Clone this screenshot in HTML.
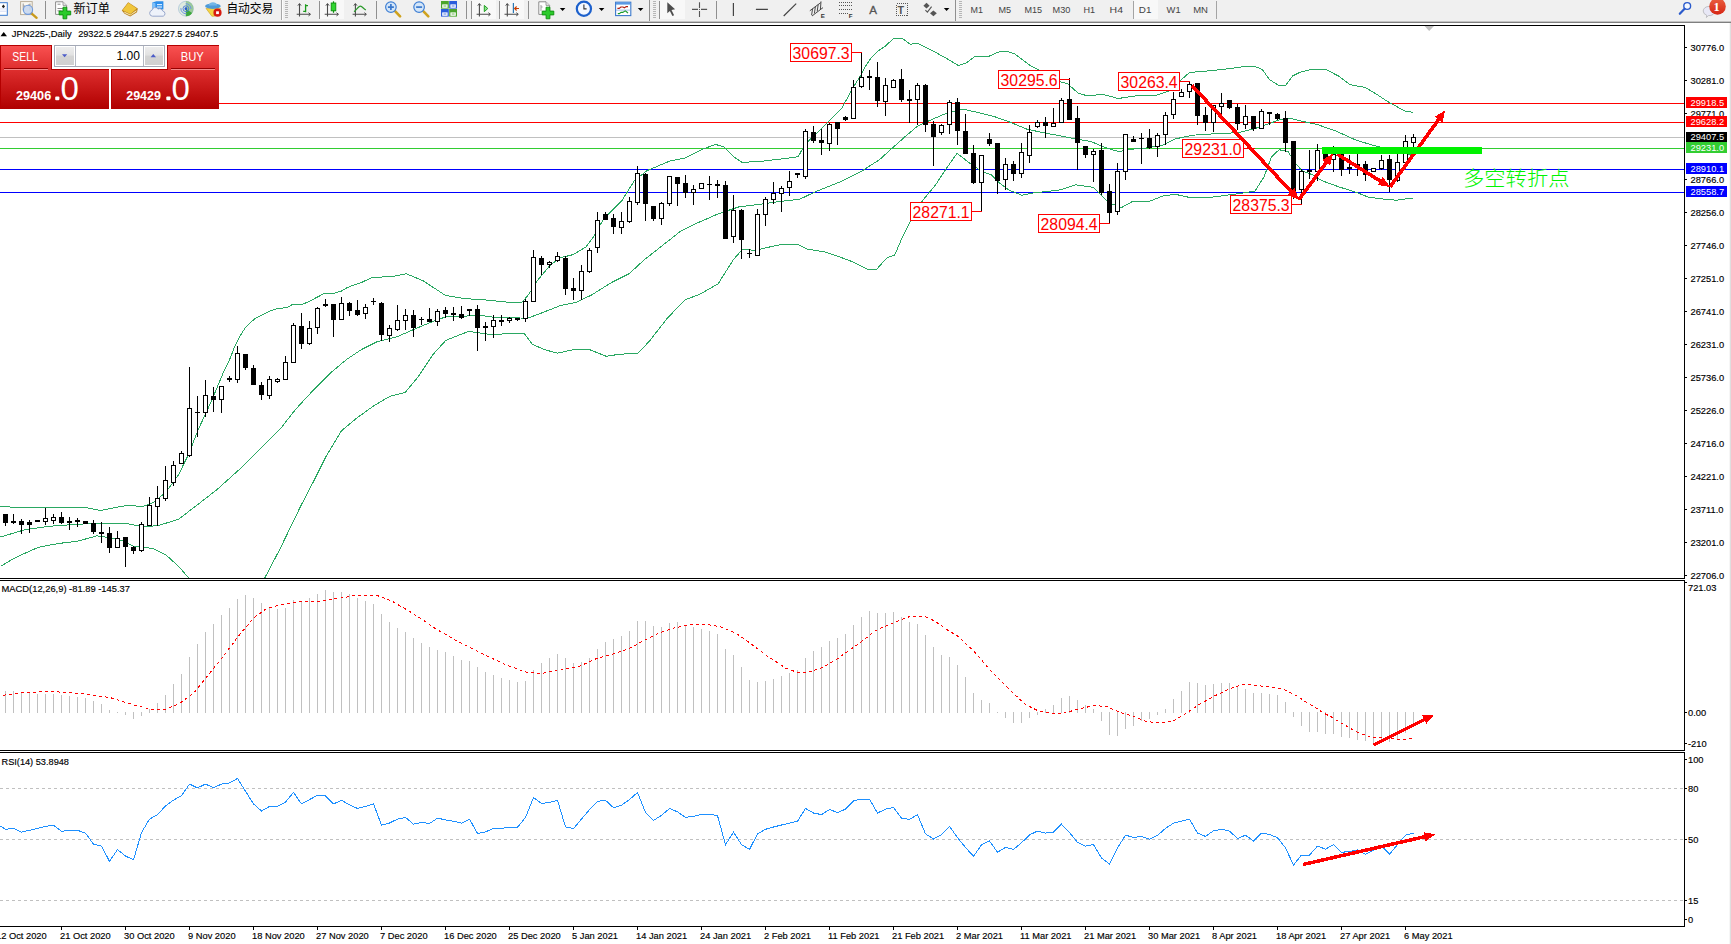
<!DOCTYPE html><html><head><meta charset="utf-8"><title>JPN225 Daily</title>
<style>html,body{margin:0;padding:0;background:#fff;overflow:hidden}body{width:1731px;height:944px}svg{display:block;font-family:"Liberation Sans","Noto Sans CJK SC",sans-serif}
.c{shape-rendering:crispEdges}.s{font-size:9.3px;fill:#000;stroke:#000;stroke-width:.15px}.t{font-size:9.5px;fill:#444}.lab{font-size:16.7px;fill:#f00}.tag{font-size:9.3px;fill:#fff}
</style></head><body>
<svg width="1731" height="944" viewBox="0 0 1731 944">
<defs>
<linearGradient id="gr" gradientUnits="userSpaceOnUse" x1="0" y1="45" x2="0" y2="109"><stop offset="0" stop-color="#fa5252"/><stop offset="0.36" stop-color="#e03030"/><stop offset="0.62" stop-color="#cc1c1c"/><stop offset="1" stop-color="#b00000"/></linearGradient>
<linearGradient id="gb" x1="0" y1="0" x2="0" y2="1"><stop offset="0" stop-color="#eeeeee"/><stop offset="0.45" stop-color="#e2e2e2"/><stop offset="0.5" stop-color="#d4d4d4"/><stop offset="1" stop-color="#d0d0d0"/></linearGradient>
<linearGradient id="gr2" x1="0" y1="0" x2="0" y2="1"><stop offset="0" stop-color="#fa5555"/><stop offset="1" stop-color="#e23232"/></linearGradient>
<linearGradient id="gr3" x1="0" y1="0" x2="0" y2="1"><stop offset="0" stop-color="#e03030"/><stop offset="1" stop-color="#b20000"/></linearGradient>
<linearGradient id="gc" x1="0" y1="0" x2="0" y2="1"><stop offset="0" stop-color="#ea6040"/><stop offset="1" stop-color="#d62614"/></linearGradient>
</defs>
<rect width="1731" height="944" fill="#fff"/>
<g class="c"><rect x="0" y="0" width="1731" height="21" fill="#f0f0f0"/>
<rect x="0" y="21" width="1731" height="1" fill="#c4c4c4"/><rect x="0" y="22" width="1731" height="1" fill="#7f7f7f"/></g>
<g id="tb">
<!-- partial window icon -->
<rect x="-3" y="2.7" width="10.3" height="12.6" fill="#fff" stroke="#3a7bd0" stroke-width="1"/>
<rect x="0" y="8.6" width="6.6" height=".7" fill="#c4cdf0"/><rect x="0" y="10.8" width="6.6" height=".7" fill="#c4cdf0"/>
<polygon points="3.4,4.6 5,6.4 3.4,8.2 1.8,6.4" fill="#222"/>
<!-- magnifier chart -->
<rect x="20.6" y="1.6" width="11.6" height="13" fill="#fbf8f0" stroke="#b9ad98" stroke-width="1"/>
<path d="M23.2,3.5v7M30,3.5v7M23.2,6h2M28,5h2" stroke="#999" stroke-width="1" fill="none"/>
<line x1="31.2" y1="13.2" x2="36.6" y2="17.8" stroke="#c99a1c" stroke-width="2.4" stroke-linecap="round"/>
<circle cx="28" cy="9.8" r="4.6" fill="#c4d6ee" fill-opacity=".85" stroke="#6d98dc" stroke-width="1.1"/>
<rect class="c" x="45" y="1" width="1" height="18" fill="#8f8f8f"/>
<!-- new order -->
<path d="M55.6,1.8h7.4l3.6,3.6v9h-11z" fill="#fff" stroke="#8a8a8a" stroke-width="1"/>
<path d="M63,1.8v3.6h3.6" fill="#e8e8e8" stroke="#8a8a8a" stroke-width=".8"/>
<path d="M57.5,4.2h3M57.5,8.5h5.5M57.5,10.8h4" stroke="#8c8c8c" stroke-width="1"/>
<path d="M63,7.2h3.8v3.9h3.9v3.8h-3.9v3.9h-3.8v-3.9h-3.9v-3.8h3.9z" fill="#2bcb2b" stroke="#0d8d0d" stroke-width=".9"/>
<text x="73.4" y="13.2" font-size="12.2" fill="#000">新订单</text>
<!-- gold book -->
<polygon points="121.8,10.6 128.2,2.2 137.8,8.6 137,12.2 130.2,16.4 124.6,13.8" fill="#b8801a"/>
<polygon points="122.6,10.2 128.4,2.8 136.8,8.4 130.4,14" fill="#f0c63c"/>
<polygon points="124,11.6 130.4,14.6 136.6,10 136.2,11.8 130.2,15.6 124.6,13" fill="#f6e6b0"/>
<!-- server cloud -->
<path d="M152.4,2.4l4-1.2h7v8.4h-11z" fill="#2f8fea"/>
<path d="M152.4,2.4l3,0.8v6.4h-3z" fill="#7fc0fa"/>
<rect x="157" y="4" width="5" height="1.2" fill="#d8ecff"/><rect x="157" y="6.4" width="5" height="1.2" fill="#d8ecff"/>
<path d="M152.5,16.2a3,3 0 0 1 -.6,-5.9a3.4,3.4 0 0 1 6.2,-1.2a3.2,3.2 0 0 1 4.6,1.9a2.7,2.7 0 0 1 .5,5.2z" fill="#eef2fa" stroke="#8e9fc6" stroke-width=".9"/>
<!-- signal -->
<circle cx="185.9" cy="8.7" r="7.4" fill="#dfeadf" stroke="#a9c4d8" stroke-width=".8"/>
<path d="M185.9,8.7v7.6a7.6,7.6 0 0 0 0,-15.2z" fill="#86bf86" fill-opacity=".75"/>
<path d="M185.9,16.3a7.6,7.6 0 0 0 6.2,-3.2l-6.2,-4.4z" fill="#3da83d"/>
<circle cx="185.9" cy="8.7" r="5" fill="none" stroke="#6a94e4" stroke-width="1" stroke-dasharray="9 6.7" stroke-dashoffset="-7"/>
<circle cx="185.9" cy="8.7" r="2.9" fill="none" stroke="#4a78d8" stroke-width=".9"/>
<circle cx="185.9" cy="8.7" r="1.4" fill="#2a5ad0"/>
<!-- auto trading -->
<polygon points="206,8.4 220.6,8.4 214.6,16.2 211.8,16.2" fill="#f4d444" stroke="#c8a020" stroke-width=".6"/>
<ellipse cx="212.9" cy="6.2" rx="7.8" ry="2.7" fill="#4e9ad8"/>
<path d="M208.6,5.6a4.4,4.2 0 0 1 8.6,0z" fill="#74b6e8"/>
<circle cx="217.5" cy="12.7" r="4.1" fill="#d61a10"/>
<rect x="216.1" y="11.3" width="2.8" height="2.8" fill="#fff"/>
<text x="226.4" y="13.2" font-size="12.2" fill="#000" textLength="46.8" lengthAdjust="spacingAndGlyphs">自动交易</text>
<rect class="c" x="281" y="0" width="1" height="20" fill="#a8a8a8"/><rect class="c" x="282" y="0" width="1" height="20" fill="#fcfcfc"/>

<g class="c" fill="#b6b6b6"><rect x="285" y="1" width="3" height="1"/><rect x="285" y="3" width="3" height="1"/><rect x="285" y="5" width="3" height="1"/><rect x="285" y="7" width="3" height="1"/><rect x="285" y="9" width="3" height="1"/><rect x="285" y="11" width="3" height="1"/><rect x="285" y="13" width="3" height="1"/><rect x="285" y="15" width="3" height="1"/><rect x="285" y="17" width="3" height="1"/></g>
<g stroke="#4a4a4a" stroke-width="1.1" fill="none"><path d="M299.5,16.6V3.8M296.7,14.3H310.1"/><path d="M297.9,5.6l1.6,-2l1.6,2M308.5,12.7l2,1.6l-2,1.6" stroke-width="1"/></g>
<path d="M305.6,4.3V12.2M305.6,5.6h2.4M303.2,11.3h2.4" stroke="#1a9a1a" stroke-width="1.3" fill="none"/>
<rect class="c" x="319" y="1" width="1" height="18" fill="#8f8f8f"/>
<rect class="c" x="320" y="0" width="24" height="19" fill="#f8f8f8"/>
<g stroke="#4a4a4a" stroke-width="1.1" fill="none"><path d="M327.5,16.6V3.8M324.7,14.3H338.1"/><path d="M325.9,5.6l1.6,-2l1.6,2M336.5,12.7l2,1.6l-2,1.6" stroke-width="1"/></g>
<path d="M333.5,1.3V12.8" stroke="#0d8d0d" stroke-width="1.2"/><rect x="331.2" y="3" width="4.6" height="7.8" fill="#2fd62f" stroke="#0d8d0d" stroke-width=".9"/>
<g stroke="#4a4a4a" stroke-width="1.1" fill="none"><path d="M355.4,16.6V3.8M352.6,14.3H366.0"/><path d="M353.8,5.6l1.6,-2l1.6,2M364.4,12.7l2,1.6l-2,1.6" stroke-width="1"/></g>
<path d="M354.1,11.8C357,9 358.6,6.2 360.3,6.2C362.4,6.2 363.4,8.8 365.9,10" stroke="#2a9a2a" stroke-width="1.2" fill="none"/>
<rect class="c" x="376" y="1" width="1" height="18" fill="#8f8f8f"/>
<line x1="395.3" y1="11.4" x2="400.1" y2="16.4" stroke="#cfa21e" stroke-width="2.6" stroke-linecap="round"/>
<circle cx="390.9" cy="7.1" r="5.3" fill="#d4e6f8" stroke="#3f7fd4" stroke-width="1.2"/>
<path d="M387.9,7.1h6M390.9,4.1v6" stroke="#3a78cc" stroke-width="1.7" fill="none"/>
<line x1="423.5" y1="11.4" x2="428.3" y2="16.4" stroke="#cfa21e" stroke-width="2.6" stroke-linecap="round"/>
<circle cx="419.1" cy="7.1" r="5.3" fill="#d4e6f8" stroke="#3f7fd4" stroke-width="1.2"/>
<path d="M416.1,7.1h6" stroke="#3a78cc" stroke-width="1.7" fill="none"/>
<rect x="441.0" y="1.0" width="7.8" height="7.6" fill="#4aa52c"/><rect x="442.2" y="4.4" width="5.4" height="3.4" fill="#fff"/><rect x="443.4" y="5.6" width="3" height=".8" fill="#4aa52c"/>
<rect x="449.2" y="1.0" width="7.8" height="7.6" fill="#2a5cdc"/><rect x="450.4" y="4.4" width="5.4" height="3.4" fill="#fff"/><rect x="451.6" y="5.6" width="3" height=".8" fill="#2a5cdc"/>
<rect x="441.0" y="9.0" width="7.8" height="7.6" fill="#2a5cdc"/><rect x="442.2" y="12.4" width="5.4" height="3.4" fill="#fff"/><rect x="443.4" y="13.6" width="3" height=".8" fill="#2a5cdc"/>
<rect x="449.2" y="9.0" width="7.8" height="7.6" fill="#4aa52c"/><rect x="450.4" y="12.4" width="5.4" height="3.4" fill="#fff"/><rect x="451.6" y="13.6" width="3" height=".8" fill="#4aa52c"/>
<rect class="c" x="466" y="1" width="1" height="18" fill="#8f8f8f"/>
<rect class="c" x="471" y="1" width="1" height="18" fill="#8f8f8f"/>
<rect class="c" x="472" y="0" width="24" height="19" fill="#f8f8f8"/>
<g stroke="#4a4a4a" stroke-width="1.1" fill="none"><path d="M479.4,16.6V3.8M476.6,14.3H490.0"/><path d="M477.8,5.6l1.6,-2l1.6,2M488.4,12.7l2,1.6l-2,1.6" stroke-width="1"/></g>
<polygon points="484.3,5.4 484.3,11.7 487.8,8.5" fill="#8ee08e" stroke="#22a022" stroke-width="1"/>
<rect class="c" x="499" y="1" width="1" height="18" fill="#8f8f8f"/>
<rect class="c" x="500" y="0" width="24" height="19" fill="#f8f8f8"/>
<g stroke="#4a4a4a" stroke-width="1.1" fill="none"><path d="M507.3,16.6V3.8M504.5,14.3H517.9"/><path d="M505.7,5.6l1.6,-2l1.6,2M516.3,12.7l2,1.6l-2,1.6" stroke-width="1"/></g>
<path d="M513.4,3V13" stroke="#2a78b4" stroke-width="1.2"/><path d="M519,8.5H514.6M516.6,6.5l-2,2l2,2" stroke="#c83c00" stroke-width="1.1" fill="none"/>
<rect class="c" x="528" y="1" width="1" height="18" fill="#8f8f8f"/>
<path d="M538.8,1.8h7.2l3.6,3.6v9h-10.8z" fill="#fff" stroke="#8a8a8a" stroke-width="1"/><path d="M546,1.8v3.6h3.6" fill="#e8e8e8" stroke="#8a8a8a" stroke-width=".8"/><path d="M541,5v6M541,7h1.6" stroke="#999" stroke-width=".9" fill="none"/>
<path d="M546.1,7.2h3.8v3.9h3.9v3.8h-3.9v3.9h-3.8v-3.9h-3.9v-3.8h3.9z" fill="#2bcb2b" stroke="#0d8d0d" stroke-width=".9"/>
<polygon points="559.8,8 565.4,8 562.6,10.9" fill="#000"/>
<circle cx="583.9" cy="8.7" r="7.1" fill="#f4f8ff" stroke="#1c60cc" stroke-width="2.2"/><path d="M583.9,4.6V8.9H586.6" stroke="#333" stroke-width="1.1" fill="none"/>
<polygon points="598.8,8 604.4,8 601.6,10.9" fill="#000"/>
<rect x="615.6" y="2.2" width="15.2" height="13.4" fill="#fff" stroke="#3a78cc" stroke-width="1.1"/><rect x="616" y="2.4" width="14.4" height="2.2" fill="#5a98e4"/><rect x="616" y="9.7" width="14.4" height=".8" fill="#8ab0e4"/>
<path d="M617.4,8.4h1.8l1.6,-1.4h2.2l1.4,.8l1.8,-1.2h1.8" stroke="#b01c10" stroke-width="1.1" fill="none"/><path d="M617.8,13.6h1.6l1.6,-1.2h1.8l2.4,-1.6l1.6,1.2l1.2,1.2" stroke="#1a9a2a" stroke-width="1.1" fill="none"/>
<polygon points="637.8,8 643.4,8 640.6,10.9" fill="#000"/>
<rect class="c" x="649" y="0" width="1" height="21" fill="#8f8f8f"/>
<g class="c" fill="#b6b6b6"><rect x="653" y="1" width="3" height="1"/><rect x="653" y="3" width="3" height="1"/><rect x="653" y="5" width="3" height="1"/><rect x="653" y="7" width="3" height="1"/><rect x="653" y="9" width="3" height="1"/><rect x="653" y="11" width="3" height="1"/><rect x="653" y="13" width="3" height="1"/><rect x="653" y="15" width="3" height="1"/><rect x="653" y="17" width="3" height="1"/></g>
<rect class="c" x="659" y="1" width="1" height="18" fill="#8f8f8f"/>
<rect class="c" x="660" y="0" width="25" height="19" fill="#f8f8f8"/>
<polygon points="667.3,2.2 667.3,13.2 669.9,10.9 672.4,16.1 674.1,15.3 671.5,10.1 675.1,9.2" fill="#4e4e4e"/>
<path d="M692,9.4h6M701,9.4h6.1M699.5,2.2v5.7M699.5,10.9v6" stroke="#555" stroke-width="1.1"/><rect x="699" y="8.9" width="1" height="1" fill="#555"/>
<rect class="c" x="716" y="1" width="1" height="18" fill="#8f8f8f"/>
<path d="M733.4,3V16M755.9,9.4H767.9M783.7,16L796.2,3.6" stroke="#444" stroke-width="1.2" fill="none"/>
<path d="M809.8,10.8L820.8,2.6M812,16L823,7.6M812.6,8.6l-1,6.6M815.4,6.6l-1,6.8M818.2,4.4l-1,7M821,1.4l-.6,8" stroke="#4a4a4a" stroke-width="1" fill="none"/>
<text x="820.8" y="17.8" font-size="6.2" font-weight="bold" fill="#333">E</text>
<g class="c">
<line x1="839" y1="2.5" x2="852" y2="2.5" stroke="#555" stroke-width="1" stroke-dasharray="1 1"/>
<line x1="839" y1="5.5" x2="852" y2="5.5" stroke="#555" stroke-width="1" stroke-dasharray="1 1"/>
<line x1="839" y1="9.5" x2="852" y2="9.5" stroke="#555" stroke-width="1" stroke-dasharray="1 1"/>
<line x1="839" y1="13.5" x2="848" y2="13.5" stroke="#555" stroke-width="1" stroke-dasharray="1 1"/>
</g><text x="848.8" y="17.8" font-size="6.2" font-weight="bold" fill="#333">F</text>
<text x="869.3" y="13.7" font-size="11.6" fill="#555" stroke="#555" stroke-width=".3">A</text>
<rect class="c" x="896.5" y="3.5" width="11" height="12" fill="none" stroke="#555" stroke-width="1" stroke-dasharray="1 1"/>
<text x="897.6" y="13.5" font-size="10.8" font-weight="bold" fill="#555">T</text>
<polygon points="926.5,2.8 929.6,5.8 926.5,8.4 923.4,5.8" fill="#555"/><polygon points="933.4,10.4 936.8,13.2 933.4,16.2 930,13.2" fill="#555"/><path d="M925.4,10.2l2,2l4.2,-5.6" stroke="#555" stroke-width="1.1" fill="none"/>
<polygon points="943.8,8 949.4,8 946.6,10.9" fill="#000"/>
<rect class="c" x="955" y="0" width="1" height="21" fill="#8f8f8f"/>
<g class="c" fill="#b6b6b6"><rect x="959" y="1" width="3" height="1"/><rect x="959" y="3" width="3" height="1"/><rect x="959" y="5" width="3" height="1"/><rect x="959" y="7" width="3" height="1"/><rect x="959" y="9" width="3" height="1"/><rect x="959" y="11" width="3" height="1"/><rect x="959" y="13" width="3" height="1"/><rect x="959" y="15" width="3" height="1"/><rect x="959" y="17" width="3" height="1"/></g>
<text class="t" x="970.6" y="12.5" textLength="12.4" lengthAdjust="spacingAndGlyphs">M1</text>
<text class="t" x="998.5" y="12.5" textLength="12.6" lengthAdjust="spacingAndGlyphs">M5</text>
<text class="t" x="1024.4" y="12.5" textLength="17.6" lengthAdjust="spacingAndGlyphs">M15</text>
<text class="t" x="1052.6" y="12.5" textLength="17.8" lengthAdjust="spacingAndGlyphs">M30</text>
<text class="t" x="1083.4" y="12.5" textLength="11.6" lengthAdjust="spacingAndGlyphs">H1</text>
<text class="t" x="1109.6" y="12.5" textLength="13.4" lengthAdjust="spacingAndGlyphs">H4</text>
<rect class="c" x="1134" y="0" width="24" height="19" fill="#f8f8f8"/>
<text class="t" x="1138.8" y="12.5" textLength="12.6" lengthAdjust="spacingAndGlyphs">D1</text>
<text class="t" x="1166.6" y="12.5" textLength="14.0" lengthAdjust="spacingAndGlyphs">W1</text>
<text class="t" x="1193.2" y="12.5" textLength="14.8" lengthAdjust="spacingAndGlyphs">MN</text>
<rect class="c" x="1133" y="1" width="1" height="18" fill="#a4a4a4"/>
<rect class="c" x="1216" y="1" width="1" height="18" fill="#a4a4a4"/>
<circle cx="1687.2" cy="6" r="3.4" fill="#f4f8ff" stroke="#2a5acc" stroke-width="1.4"/><line x1="1684.6" y1="8.8" x2="1679.8" y2="13.8" stroke="#2a5acc" stroke-width="2.2" stroke-linecap="round"/>
<path d="M1703.2,11a5.9,4.6 0 0 1 11.8,0a5.9,4.6 0 0 1 -6.6,4.6l-2,1.9l.3,-2.3a5.9,4.6 0 0 1 -3.5,-4.2z" fill="#e8e8f6" stroke="#b4b4b8" stroke-width=".8"/>
<circle cx="1717.5" cy="6.4" r="8.3" fill="url(#gc)"/><text x="1716.6" y="11" font-size="12.4" font-weight="bold" font-family="Liberation Serif,serif" fill="#fff" text-anchor="middle">1</text>
</g>
<g class="c" fill="#000">
<rect x="0" y="25" width="1685" height="1"/><rect x="1684" y="25" width="1" height="554"/><rect x="0" y="578" width="1685" height="1"/>
<rect x="0" y="580" width="1685" height="1"/><rect x="1684" y="580" width="1" height="171"/><rect x="0" y="750" width="1685" height="1"/>
<rect x="0" y="752" width="1685" height="1"/><rect x="1684" y="752" width="1" height="175"/><rect x="0" y="926" width="1685" height="1"/>
</g>
<rect class="c" x="1729" y="23" width="1" height="921" fill="#f6f6f6"/><rect class="c" x="1730" y="23" width="1" height="921" fill="#dedede"/>
<g class="c" fill="#000">
<rect x="1685" y="47" width="2" height="1"/>
<rect x="1685" y="80" width="2" height="1"/>
<rect x="1685" y="113" width="2" height="1"/>
<rect x="1685" y="179" width="2" height="1"/>
<rect x="1685" y="212" width="2" height="1"/>
<rect x="1685" y="245" width="2" height="1"/>
<rect x="1685" y="278" width="2" height="1"/>
<rect x="1685" y="311" width="2" height="1"/>
<rect x="1685" y="344" width="2" height="1"/>
<rect x="1685" y="377" width="2" height="1"/>
<rect x="1685" y="410" width="2" height="1"/>
<rect x="1685" y="443" width="2" height="1"/>
<rect x="1685" y="476" width="2" height="1"/>
<rect x="1685" y="509" width="2" height="1"/>
<rect x="1685" y="542" width="2" height="1"/>
<rect x="1685" y="575" width="2" height="1"/>
<rect x="1685" y="582" width="2" height="1"/>
<rect x="1685" y="712" width="2" height="1"/>
<rect x="1685" y="743" width="2" height="1"/>
<rect x="1685" y="759" width="2" height="1"/>
<rect x="1685" y="788" width="2" height="1"/>
<rect x="1685" y="839" width="2" height="1"/>
<rect x="1685" y="900" width="2" height="1"/>
<rect x="1685" y="919" width="2" height="1"/>
</g>
<g class="s">
<text x="1690.5" y="50.8">30776.0</text>
<text x="1690.5" y="83.8">30281.0</text>
<text x="1690.5" y="116.8">29771.0</text>
<text x="1690.5" y="182.8">28766.0</text>
<text x="1690.5" y="215.8">28256.0</text>
<text x="1690.5" y="248.8">27746.0</text>
<text x="1690.5" y="281.8">27251.0</text>
<text x="1690.5" y="314.8">26741.0</text>
<text x="1690.5" y="347.8">26231.0</text>
<text x="1690.5" y="380.8">25736.0</text>
<text x="1690.5" y="413.8">25226.0</text>
<text x="1690.5" y="446.8">24716.0</text>
<text x="1690.5" y="479.8">24221.0</text>
<text x="1690.5" y="512.8">23711.0</text>
<text x="1690.5" y="545.8">23201.0</text>
<text x="1690.5" y="578.8">22706.0</text>
<text x="1688" y="591.1">721.03</text>
<text x="1688" y="715.9">0.00</text>
<text x="1688" y="746.6">-210</text>
<text x="1688" y="763.2">100</text>
<text x="1688" y="792.2">80</text>
<text x="1688" y="843.1">50</text>
<text x="1688" y="904.1">15</text>
<text x="1688" y="923.1">0</text>
</g>
<g class="c">
<rect x="1686" y="97" width="41" height="11" fill="#f00"/>
<rect x="1686" y="116" width="41" height="11" fill="#f00"/>
<rect x="1686" y="132" width="41" height="10" fill="#000"/>
<rect x="1686" y="142" width="41" height="11" fill="#32cd32"/>
<rect x="1686" y="163" width="41" height="11" fill="#00f"/>
<rect x="1686" y="186" width="41" height="11" fill="#00f"/>
</g><g class="tag">
<text x="1690.5" y="105.8">29918.5</text>
<text x="1690.5" y="124.8">29628.2</text>
<text x="1690.5" y="139.8">29407.5</text>
<text x="1690.5" y="150.8">29231.0</text>
<text x="1690.5" y="171.8">28910.1</text>
<text x="1690.5" y="194.8">28558.7</text>
</g>
<g class="c">
<rect x="0" y="103" width="1684" height="1" fill="#f00"/>
<rect x="0" y="122" width="1684" height="1" fill="#f00"/>
<rect x="0" y="137" width="1684" height="1" fill="#c0c0c0"/>
<rect x="0" y="148" width="1684" height="1" fill="#32cd32"/>
<rect x="0" y="169" width="1684" height="1" fill="#00f"/>
<rect x="0" y="192" width="1684" height="1" fill="#00f"/>
</g>
<clipPath id="cm"><rect x="0" y="26" width="1684" height="552"/></clipPath>
<g clip-path="url(#cm)">
<polyline class="c" fill="none" stroke="#2aa862" stroke-width="1"  points="0.5,506.5 25.9,507.8 86.5,507.8 100.5,510.4 127.5,505.3 142.5,506.5 153.1,502.7 165.5,492.6 178.5,474.8 188.5,454.4 198.5,429.0 211.5,401.0 224.2,370.5 229.6,359.6 234.8,346.3 239.6,336.7 245.3,327.7 254.8,318.6 262.5,314.8 269.1,311.5 276.8,308.6 286.3,307.7 293.0,304.3 302.5,304.3 308.2,301.9 324.4,293.4 334.0,293.4 341.6,291.0 347.3,287.6 353.0,285.3 360.5,282.9 372.0,277.6 392.5,276.4 406.4,273.8 422.9,280.7 445.5,295.4 463.5,298.5 483.9,299.8 509.3,302.3 522.0,302.3 528.5,294.7 537.3,280.7 550.0,265.4 560.2,257.8 573.2,254.6 585.9,247.0 593.5,236.8 603.5,219.0 621.5,201.2 634.2,180.9 646.9,170.7 669.8,161.0 685.1,158.0 702.9,149.0 715.5,144.5 723.2,146.5 733.4,156.7 742.3,162.5 763.9,161.0 789.3,158.0 798.2,156.7 804.5,145.3 814.5,135.0 821.0,129.2 841.4,108.8 854.1,85.9 860.5,75.8 864.7,67.4 870.2,59.1 878.5,50.8 885.5,45.9 893.8,38.3 902.1,38.3 910.4,44.3 917.3,43.2 932.6,50.8 946.5,58.4 958.2,65.4 965.9,63.3 974.2,57.0 989.4,56.1 997.8,52.2 1006.1,51.1 1014.4,53.6 1022.7,59.8 1031.0,66.0 1038.0,69.5 1049.5,76.0 1060.8,82.0 1067.1,83.4 1072.6,88.2 1078.2,93.1 1085.1,95.2 1094.8,95.2 1101.9,94.1 1118.1,98.5 1138.2,95.6 1157.2,95.0 1170.6,90.3 1180.1,80.7 1189.6,72.5 1204.9,71.2 1224.0,69.3 1243.0,66.8 1254.5,66.4 1262.1,69.3 1269.7,79.8 1278.3,85.1 1285.9,85.1 1292.6,76.0 1300.2,72.2 1309.8,69.9 1326.9,69.9 1338.4,76.0 1349.8,84.6 1365.0,87.4 1376.5,94.1 1387.9,101.7 1405.1,111.2 1412.7,112.2"/>
<polyline class="c" fill="none" stroke="#2aa862" stroke-width="1"  points="0.5,537.0 25.9,529.4 51.4,526.1 76.8,524.3 102.2,523.1 127.5,523.6 142.9,526.9 158.1,525.6 178.5,519.3 193.5,507.8 216.5,490.0 242.0,467.1 259.8,449.3 280.2,429.0 295.8,409.1 313.5,390.0 331.4,372.2 346.5,359.5 361.9,349.3 377.1,341.7 397.5,336.6 417.8,327.7 433.1,321.4 445.8,316.8 463.5,316.3 478.8,315.0 491.5,317.0 509.3,317.5 527.1,318.3 539.8,313.7 560.2,305.6 575.8,302.4 591.0,295.3 611.4,282.6 629.1,273.7 644.4,259.7 662.2,245.7 680.0,231.7 697.8,222.8 718.1,213.9 738.5,207.0 763.9,203.7 781.7,201.2 799.5,199.4 815.9,191.5 841.4,181.3 861.7,171.1 879.5,159.7 892.2,148.2 904.9,136.8 917.5,126.1 932.9,119.0 948.1,112.6 963.4,109.3 978.5,112.6 993.9,116.4 1011.7,122.8 1027.0,129.2 1044.8,133.0 1060.5,135.9 1075.5,139.0 1091.0,141.5 1106.3,147.9 1119.0,151.7 1131.5,149.2 1146.9,147.9 1162.2,145.3 1174.9,139.0 1192.5,135.2 1213.1,133.9 1238.5,132.6 1258.5,127.5 1279.2,119.9 1289.3,118.1 1299.5,120.7 1317.8,124.7 1336.5,131.3 1355.1,139.7 1373.7,145.6 1378.5,146.6 1392.5,150.5 1413.2,155.5"/>
<polyline class="c" fill="none" stroke="#2aa862" stroke-width="1"  points="0.5,566.3 15.8,557.4 38.5,547.2 59.0,543.4 76.8,541.4 97.1,535.8 109.8,537.8 122.5,540.9 132.7,546.0 153.1,548.5 165.8,554.8 178.5,566.3 188.5,577.7 192.5,583.0"/>
<polyline class="c" fill="none" stroke="#2aa862" stroke-width="1"  points="261.5,583.0 264.9,577.7 280.2,548.5 300.5,506.5 314.8,479.0 326.3,456.0 341.5,430.7 356.8,418.0 374.5,405.3 389.8,396.4 405.1,392.6 417.8,377.3 433.1,354.4 445.8,340.4 458.5,335.3 468.5,331.5 478.8,332.8 491.5,334.6 509.3,333.6 524.5,334.0 532.2,344.2 544.9,349.8 557.5,353.1 575.8,349.2 588.5,349.2 606.3,356.3 619.0,354.3 638.1,353.2 649.5,341.0 667.3,318.2 685.1,299.8 700.3,294.0 718.1,283.8 733.4,259.7 742.3,249.5 756.3,250.3 763.9,248.2 781.7,244.4 798.2,244.4 807.1,249.0 824.9,252.0 840.2,257.1 851.5,261.4 866.8,269.0 876.9,269.0 887.1,257.6 894.7,255.0 902.4,237.2 912.5,216.9 922.7,200.4 935.4,185.1 948.1,166.0 957.0,153.3 968.5,162.2 981.2,171.1 991.4,174.9 999.0,182.6 1009.2,190.2 1021.9,195.3 1034.5,192.7 1047.3,191.5 1060.5,189.8 1075.5,184.8 1093.5,187.3 1108.8,202.6 1121.5,207.6 1131.5,202.0 1149.5,201.3 1162.2,196.2 1174.9,194.2 1187.5,197.0 1213.1,197.0 1238.5,193.7 1255.0,191.1 1263.9,177.1 1271.5,156.8 1279.2,149.7 1288.1,151.7 1294.5,161.9 1302.0,170.8 1312.2,174.6 1322.4,180.9 1340.2,187.3 1355.1,191.9 1368.1,197.0 1381.2,198.8 1396.1,200.2 1413.2,198.0"/>
</g>
<g class="c"><path fill="#000" d="M5,514h1v12h-1zM13,514h1v10h-1zM21,519h1v15h-1zM29,520h1v13h-1zM37,520h1v2h-1zM45,508h1v17h-1zM53,514h1v10h-1zM61,512h1v12h-1zM69,517h1v13h-1zM77,518h1v9h-1zM85,521h1v3h-1zM93,520h1v14h-1zM101,522h1v21h-1zM109,527h1v26h-1zM117,531h1v17h-1zM125,537h1v30h-1zM133,546h1v8h-1zM141,522h1v30h-1zM149,497h1v29h-1zM157,486h1v40h-1zM165,466h1v35h-1zM173,461h1v25h-1zM181,451h1v13h-1zM189,367h1v90h-1zM197,396h1v41h-1zM205,380h1v37h-1zM213,387h1v25h-1zM221,386h1v27h-1zM229,376h1v6h-1zM237,346h1v37h-1zM245,354h1v16h-1zM253,365h1v20h-1zM261,382h1v18h-1zM269,376h1v23h-1zM277,378h1v5h-1zM285,356h1v24h-1zM293,323h1v40h-1zM301,313h1v36h-1zM309,321h1v24h-1zM317,307h1v27h-1zM325,299h1v8h-1zM333,304h1v33h-1zM341,297h1v23h-1zM349,302h1v14h-1zM357,300h1v16h-1zM365,304h1v15h-1zM373,298h1v7h-1zM381,302h1v39h-1zM389,325h1v17h-1zM397,305h1v26h-1zM405,309h1v21h-1zM413,310h1v27h-1zM421,317h1v8h-1zM429,308h1v14h-1zM437,309h1v17h-1zM445,307h1v11h-1zM453,307h1v14h-1zM461,306h1v13h-1zM469,309h1v7h-1zM477,305h1v46h-1zM485,322h1v19h-1zM493,315h1v23h-1zM501,315h1v11h-1zM509,317h1v6h-1zM517,318h1v3h-1zM525,299h1v23h-1zM533,250h1v52h-1zM541,256h1v19h-1zM549,261h1v7h-1zM557,252h1v10h-1zM565,256h1v39h-1zM573,278h1v22h-1zM581,265h1v35h-1zM589,248h1v25h-1zM597,212h1v41h-1zM605,212h1v8h-1zM613,214h1v20h-1zM621,212h1v22h-1zM629,197h1v26h-1zM637,166h1v39h-1zM645,173h1v48h-1zM653,206h1v15h-1zM661,202h1v23h-1zM669,176h1v30h-1zM677,177h1v29h-1zM685,175h1v23h-1zM693,185h1v20h-1zM701,183h1v6h-1zM709,176h1v24h-1zM717,180h1v18h-1zM725,181h1v58h-1zM733,195h1v48h-1zM741,209h1v50h-1zM749,249h1v9h-1zM757,209h1v47h-1zM765,197h1v29h-1zM773,182h1v22h-1zM781,186h1v26h-1zM789,171h1v25h-1zM797,173h1v5h-1zM805,129h1v50h-1zM813,126h1v17h-1zM821,129h1v26h-1zM829,123h1v28h-1zM837,122h1v23h-1zM845,116h1v5h-1zM853,80h1v39h-1zM861,52h1v36h-1zM869,70h1v20h-1zM877,62h1v45h-1zM885,78h1v38h-1zM893,79h1v9h-1zM901,69h1v33h-1zM909,90h1v33h-1zM917,83h1v42h-1zM925,84h1v48h-1zM933,121h1v45h-1zM941,124h1v11h-1zM949,100h1v34h-1zM957,98h1v47h-1zM965,114h1v40h-1zM973,145h1v39h-1zM981,155h1v56h-1zM989,133h1v13h-1zM997,143h1v51h-1zM1005,158h1v32h-1zM1013,161h1v20h-1zM1021,143h1v35h-1zM1029,125h1v38h-1zM1037,120h1v8h-1zM1045,117h1v21h-1zM1053,108h1v19h-1zM1061,98h1v25h-1zM1069,78h1v42h-1zM1077,106h1v64h-1zM1085,146h1v12h-1zM1093,149h1v33h-1zM1101,143h1v52h-1zM1109,184h1v39h-1zM1117,163h1v52h-1zM1125,134h1v46h-1zM1133,136h1v6h-1zM1141,133h1v31h-1zM1149,129h1v20h-1zM1157,133h1v24h-1zM1165,112h1v33h-1zM1173,92h1v27h-1zM1181,89h1v8h-1zM1189,81h1v17h-1zM1197,83h1v42h-1zM1205,107h1v24h-1zM1213,105h1v27h-1zM1221,93h1v22h-1zM1229,100h1v9h-1zM1237,104h1v26h-1zM1245,105h1v24h-1zM1253,116h1v15h-1zM1261,109h1v20h-1zM1269,112h1v13h-1zM1277,113h1v7h-1zM1285,111h1v41h-1zM1293,141h1v58h-1zM1301,169h1v36h-1zM1309,150h1v29h-1zM1317,144h1v37h-1zM1325,149h1v17h-1zM1333,146h1v26h-1zM1341,154h1v22h-1zM1349,155h1v19h-1zM1357,154h1v22h-1zM1365,161h1v20h-1zM1373,168h1v4h-1zM1381,155h1v15h-1zM1389,155h1v37h-1zM1397,154h1v28h-1zM1405,135h1v28h-1zM1413,134h1v14h-1z"/><path fill="#000" d="M3,514h5v9h-5zM11,521h5v2h-5zM19,521h5v4h-5zM27,522h5v3h-5zM35,520h5v2h-5zM43,518h5v4h-5zM51,517h5v4h-5zM59,517h5v6h-5zM67,521h5v2h-5zM75,520h5v2h-5zM83,521h5v3h-5zM91,523h5v9h-5zM99,532h5v2h-5zM107,533h5v15h-5zM115,538h5v10h-5zM123,537h5v10h-5zM131,547h5v4h-5zM139,524h5v27h-5zM147,505h5v21h-5zM155,498h5v9h-5zM163,480h5v19h-5zM171,465h5v18h-5zM179,453h5v11h-5zM187,408h5v48h-5zM195,412h5v1h-5zM203,395h5v18h-5zM211,396h5v4h-5zM219,386h5v14h-5zM227,378h5v2h-5zM235,353h5v27h-5zM243,354h5v14h-5zM251,368h5v17h-5zM259,385h5v10h-5zM267,379h5v17h-5zM275,379h5v3h-5zM283,362h5v18h-5zM291,325h5v38h-5zM299,326h5v18h-5zM307,328h5v16h-5zM315,308h5v20h-5zM323,304h5v2h-5zM331,304h5v16h-5zM339,303h5v17h-5zM347,303h5v8h-5zM355,310h5v5h-5zM363,307h5v7h-5zM371,301h5v1h-5zM379,303h5v32h-5zM387,328h5v8h-5zM395,320h5v10h-5zM403,315h5v6h-5zM411,315h5v13h-5zM419,319h5v1h-5zM427,319h5v3h-5zM435,311h5v11h-5zM443,310h5v4h-5zM451,313h5v2h-5zM459,314h5v4h-5zM467,309h5v2h-5zM475,309h5v19h-5zM483,326h5v2h-5zM491,320h5v7h-5zM499,320h5v2h-5zM507,318h5v3h-5zM515,318h5v2h-5zM523,301h5v18h-5zM531,257h5v45h-5zM539,258h5v7h-5zM547,262h5v3h-5zM555,256h5v5h-5zM563,258h5v31h-5zM571,288h5v3h-5zM579,271h5v20h-5zM587,250h5v22h-5zM595,220h5v28h-5zM603,214h5v6h-5zM611,218h5v9h-5zM619,221h5v7h-5zM627,201h5v21h-5zM635,173h5v30h-5zM643,174h5v30h-5zM651,206h5v13h-5zM659,203h5v16h-5zM667,176h5v28h-5zM675,177h5v7h-5zM683,183h5v10h-5zM691,189h5v4h-5zM699,183h5v6h-5zM707,184h5v1h-5zM715,184h5v2h-5zM723,185h5v54h-5zM731,210h5v27h-5zM739,210h5v30h-5zM747,253h5v1h-5zM755,214h5v42h-5zM763,199h5v16h-5zM771,193h5v7h-5zM779,188h5v6h-5zM787,181h5v7h-5zM795,173h5v2h-5zM803,131h5v46h-5zM811,132h5v9h-5zM819,140h5v3h-5zM827,124h5v20h-5zM835,122h5v7h-5zM843,117h5v3h-5zM851,87h5v32h-5zM859,77h5v10h-5zM867,76h5v2h-5zM875,77h5v24h-5zM883,85h5v17h-5zM891,80h5v8h-5zM899,79h5v21h-5zM907,99h5v2h-5zM915,85h5v15h-5zM923,85h5v40h-5zM931,124h5v13h-5zM939,125h5v8h-5zM947,102h5v23h-5zM955,102h5v29h-5zM963,131h5v23h-5zM971,153h5v30h-5zM979,155h5v28h-5zM987,139h5v5h-5zM995,143h5v38h-5zM1003,164h5v16h-5zM1011,164h5v10h-5zM1019,152h5v22h-5zM1027,132h5v24h-5zM1035,122h5v5h-5zM1043,122h5v4h-5zM1051,123h5v4h-5zM1059,100h5v23h-5zM1067,99h5v21h-5zM1075,118h5v25h-5zM1083,146h5v9h-5zM1091,151h5v4h-5zM1099,150h5v43h-5zM1107,191h5v22h-5zM1115,171h5v41h-5zM1123,134h5v38h-5zM1131,139h5v3h-5zM1139,138h5v1h-5zM1147,138h5v10h-5zM1155,135h5v12h-5zM1163,115h5v20h-5zM1171,99h5v16h-5zM1179,92h5v5h-5zM1187,84h5v8h-5zM1195,83h5v33h-5zM1203,115h5v8h-5zM1211,105h5v18h-5zM1219,103h5v4h-5zM1227,100h5v8h-5zM1235,107h5v17h-5zM1243,116h5v9h-5zM1251,116h5v13h-5zM1259,111h5v18h-5zM1267,112h5v2h-5zM1275,114h5v5h-5zM1283,118h5v25h-5zM1291,141h5v54h-5zM1299,171h5v19h-5zM1307,170h5v2h-5zM1315,150h5v22h-5zM1323,154h5v7h-5zM1331,154h5v6h-5zM1339,154h5v16h-5zM1347,167h5v2h-5zM1355,164h5v4h-5zM1363,164h5v11h-5zM1371,168h5v4h-5zM1379,160h5v9h-5zM1387,159h5v21h-5zM1395,162h5v19h-5zM1403,141h5v22h-5zM1411,137h5v6h-5z"/><path fill="#fff" d="M44,519h3v2h-3zM52,518h3v2h-3zM116,539h3v8h-3zM140,525h3v25h-3zM148,506h3v19h-3zM156,499h3v7h-3zM164,481h3v17h-3zM172,466h3v16h-3zM180,454h3v9h-3zM188,409h3v46h-3zM204,396h3v16h-3zM220,387h3v12h-3zM236,354h3v25h-3zM268,380h3v15h-3zM276,380h3v1h-3zM284,363h3v16h-3zM292,326h3v36h-3zM308,329h3v14h-3zM316,309h3v18h-3zM340,304h3v15h-3zM364,308h3v5h-3zM388,329h3v6h-3zM396,321h3v8h-3zM404,316h3v4h-3zM436,312h3v9h-3zM492,321h3v5h-3zM508,319h3v1h-3zM524,302h3v16h-3zM532,258h3v43h-3zM548,263h3v1h-3zM556,257h3v3h-3zM580,272h3v18h-3zM588,251h3v20h-3zM596,221h3v26h-3zM620,222h3v5h-3zM628,202h3v19h-3zM636,174h3v28h-3zM660,204h3v14h-3zM668,177h3v26h-3zM692,190h3v2h-3zM700,184h3v4h-3zM732,211h3v25h-3zM756,215h3v40h-3zM764,200h3v14h-3zM772,194h3v5h-3zM780,189h3v4h-3zM788,182h3v5h-3zM804,132h3v44h-3zM828,125h3v18h-3zM852,88h3v30h-3zM860,78h3v8h-3zM884,86h3v15h-3zM892,81h3v6h-3zM916,86h3v13h-3zM940,126h3v6h-3zM948,103h3v21h-3zM980,156h3v26h-3zM1004,165h3v14h-3zM1020,153h3v20h-3zM1028,133h3v22h-3zM1036,123h3v3h-3zM1052,124h3v2h-3zM1060,101h3v21h-3zM1092,152h3v2h-3zM1116,172h3v39h-3zM1124,135h3v36h-3zM1156,136h3v10h-3zM1164,116h3v18h-3zM1172,100h3v14h-3zM1180,93h3v3h-3zM1188,85h3v6h-3zM1212,106h3v16h-3zM1220,104h3v2h-3zM1244,117h3v7h-3zM1260,112h3v16h-3zM1300,172h3v17h-3zM1316,151h3v20h-3zM1332,155h3v4h-3zM1372,169h3v2h-3zM1380,161h3v7h-3zM1396,163h3v17h-3zM1404,142h3v20h-3zM1412,138h3v4h-3z"/></g>
<g class="c"><rect x="852" y="52" width="10" height="1" fill="#f00"/><rect x="790.5" y="43.5" width="61" height="18" fill="#fff" stroke="#f00" stroke-width="1"/></g><text class="lab" x="792.6" y="59.0" textLength="57" lengthAdjust="spacingAndGlyphs">30697.3</text>
<g class="c"><rect x="1060" y="79" width="10" height="1" fill="#f00"/><rect x="998.5" y="70.5" width="61" height="18" fill="#fff" stroke="#f00" stroke-width="1"/></g><text class="lab" x="1000.6" y="86.0" textLength="57" lengthAdjust="spacingAndGlyphs">30295.6</text>
<g class="c"><rect x="1180" y="81" width="10" height="1" fill="#f00"/><rect x="1118.5" y="72.5" width="61" height="18" fill="#fff" stroke="#f00" stroke-width="1"/></g><text class="lab" x="1120.6" y="88.0" textLength="57" lengthAdjust="spacingAndGlyphs">30263.4</text>
<g class="c"><rect x="1244" y="148" width="11" height="1" fill="#f00"/><rect x="1182.5" y="139.5" width="61" height="18" fill="#fff" stroke="#f00" stroke-width="1"/></g><text class="lab" x="1184.6" y="155.0" textLength="57" lengthAdjust="spacingAndGlyphs">29231.0</text>
<g class="c"><rect x="972" y="211" width="10" height="1" fill="#f00"/><rect x="910.5" y="202.5" width="61" height="18" fill="#fff" stroke="#f00" stroke-width="1"/></g><text class="lab" x="912.6" y="218.0" textLength="57" lengthAdjust="spacingAndGlyphs">28271.1</text>
<g class="c"><rect x="1100" y="223" width="10" height="1" fill="#f00"/><rect x="1038.5" y="214.5" width="61" height="18" fill="#fff" stroke="#f00" stroke-width="1"/></g><text class="lab" x="1040.6" y="230.0" textLength="57" lengthAdjust="spacingAndGlyphs">28094.4</text>
<g class="c"><rect x="1292" y="204" width="10" height="1" fill="#f00"/><rect x="1230.5" y="195.5" width="61" height="18" fill="#fff" stroke="#f00" stroke-width="1"/></g><text class="lab" x="1232.6" y="211.0" textLength="57" lengthAdjust="spacingAndGlyphs">28375.3</text>
<line class="c" x1="1192.0" y1="85.5" x2="1292.5" y2="193.1" stroke="#f00" stroke-width="3.6"/><polygon class="c" fill="#f00" points="1299.0,200.0 1287.6,194.9 1294.7,188.3"/>
<line class="c" x1="1299.0" y1="199.5" x2="1327.4" y2="161.1" stroke="#f00" stroke-width="3.6"/><polygon class="c" fill="#f00" points="1333.0,153.5 1330.0,165.6 1322.3,159.9"/>
<line class="c" x1="1337.0" y1="154.0" x2="1381.9" y2="182.0" stroke="#f00" stroke-width="3.6"/><polygon class="c" fill="#f00" points="1390.0,187.0 1377.7,185.0 1382.8,176.8"/>
<line class="c" x1="1390.0" y1="187.0" x2="1439.7" y2="118.0" stroke="#f00" stroke-width="3.6"/><polygon class="c" fill="#f00" points="1445.2,110.3 1442.4,122.4 1434.6,116.8"/>
<rect class="c" x="1322" y="147" width="160" height="7" fill="#00f200"/>
<text x="1463" y="186.4" font-size="20.2" font-weight="300" fill="#00f400" textLength="106.5" lengthAdjust="spacingAndGlyphs">多空转折点</text>
<polygon points="1424.5,26 1434,26 1429.2,31" fill="#c0c0c0"/>
<polygon points="0.5,36.2 7,36.2 3.7,32" fill="#000"/>
<text x="11.7" y="36.9" font-size="9.4" fill="#000" stroke="#000" stroke-width=".15" textLength="60" lengthAdjust="spacingAndGlyphs">JPN225-,Daily</text>
<text x="78.2" y="36.9" font-size="9.4" fill="#000" stroke="#000" stroke-width=".15" textLength="139.8" lengthAdjust="spacingAndGlyphs">29322.5 29447.5 29227.5 29407.5</text>
<rect class="c" x="0" y="45" width="219" height="64" fill="#fff"/>
<g class="c">
<path d="M0,45H52V69H109V109H0z" fill="url(#gr)"/>
<path d="M167,45H219V109H111V69H167z" fill="url(#gr)"/>
<path d="M0.5,109V45.5H51.5V69.5H108.5" fill="none" stroke="#b40000" stroke-width="1"/>
<path d="M111.5,109V69.5H167.5V45.5H218.5" fill="none" stroke="#b40000" stroke-width="1"/>
<rect x="4" y="68" width="44" height="1" fill="#960000"/><rect x="4" y="69" width="44" height="1" fill="#f28a8a"/>
<rect x="171" y="68" width="44" height="1" fill="#960000"/><rect x="171" y="69" width="44" height="1" fill="#f28a8a"/>
<rect x="54.5" y="45.5" width="110" height="21" fill="#fff" stroke="#a4a9b6" stroke-width="1"/>
<rect x="56" y="47" width="18" height="18" fill="url(#gb)"/>
<rect x="145" y="47" width="18" height="18" fill="url(#gb)"/>
<rect x="75" y="46" width="1" height="20" fill="#b4b8c2"/>
<rect x="143" y="46" width="1" height="20" fill="#b4b8c2"/>
</g>
<polygon points="62,54.2 67.2,54.2 64.6,57.3" fill="#4c5cc8"/>
<polygon points="150.6,57.2 156,57.2 153.3,54" fill="#4c5cc8"/>
<text x="12.2" y="60.9" font-size="11.9" fill="#fff" textLength="25.6" lengthAdjust="spacingAndGlyphs">SELL</text>
<text x="180.7" y="60.9" font-size="11.9" fill="#fff" textLength="23" lengthAdjust="spacingAndGlyphs">BUY</text>
<text x="116.6" y="60.2" font-size="12.4" fill="#000" textLength="23.4" lengthAdjust="spacingAndGlyphs">1.00</text>
<text x="15.9" y="99.9" font-size="12" font-weight="bold" fill="#fff" textLength="35.3" lengthAdjust="spacingAndGlyphs">29406</text>
<text x="126.2" y="99.9" font-size="12" font-weight="bold" fill="#fff" textLength="34.8" lengthAdjust="spacingAndGlyphs">29429</text>
<rect x="55.2" y="96.4" width="4.2" height="3.8" rx="1" fill="#fff"/>
<rect x="166.3" y="96.4" width="4.2" height="3.8" rx="1" fill="#fff"/>
<text x="60.6" y="100.2" font-size="33" fill="#fff">0</text>
<text x="171.4" y="100.2" font-size="33" fill="#fff">0</text>

<path class="c" fill="#c0c0c0" d="M5,691h1v22h-1zM13,691h1v22h-1zM21,693h1v20h-1zM29,692h1v21h-1zM37,694h1v19h-1zM45,694h1v19h-1zM53,694h1v19h-1zM61,695h1v18h-1zM69,696h1v17h-1zM77,697h1v16h-1zM85,698h1v15h-1zM93,701h1v12h-1zM101,704h1v9h-1zM109,710h1v3h-1zM117,712h1v1h-1zM125,712h1v3h-1zM133,712h1v7h-1zM141,712h1v4h-1zM149,709h1v4h-1zM157,703h1v10h-1zM165,695h1v18h-1zM173,684h1v29h-1zM181,674h1v39h-1zM189,657h1v56h-1zM197,644h1v69h-1zM205,632h1v81h-1zM213,624h1v89h-1zM221,615h1v98h-1zM229,608h1v105h-1zM237,599h1v114h-1zM245,595h1v118h-1zM253,598h1v115h-1zM261,603h1v110h-1zM269,607h1v106h-1zM277,609h1v104h-1zM285,608h1v105h-1zM293,600h1v113h-1zM301,602h1v111h-1zM309,598h1v115h-1zM317,594h1v119h-1zM325,590h1v123h-1zM333,592h1v121h-1zM341,592h1v121h-1zM349,594h1v119h-1zM357,598h1v115h-1zM365,601h1v112h-1zM373,604h1v109h-1zM381,614h1v99h-1zM389,622h1v91h-1zM397,628h1v85h-1zM405,632h1v81h-1zM413,638h1v75h-1zM421,643h1v70h-1zM429,647h1v66h-1zM437,650h1v63h-1zM445,652h1v61h-1zM453,656h1v57h-1zM461,660h1v53h-1zM469,661h1v52h-1zM477,667h1v46h-1zM485,672h1v41h-1zM493,675h1v38h-1zM501,678h1v35h-1zM509,680h1v33h-1zM517,682h1v31h-1zM525,681h1v32h-1zM533,670h1v43h-1zM541,663h1v50h-1zM549,658h1v55h-1zM557,654h1v59h-1zM565,658h1v55h-1zM573,663h1v50h-1zM581,662h1v51h-1zM589,658h1v55h-1zM597,649h1v64h-1zM605,642h1v71h-1zM613,639h1v74h-1zM621,636h1v77h-1zM629,631h1v82h-1zM637,621h1v92h-1zM645,621h1v92h-1zM653,626h1v87h-1zM661,627h1v86h-1zM669,623h1v90h-1zM677,622h1v91h-1zM685,625h1v88h-1zM693,627h1v86h-1zM701,629h1v84h-1zM709,631h1v82h-1zM717,634h1v79h-1zM725,649h1v64h-1zM733,655h1v58h-1zM741,667h1v46h-1zM749,680h1v33h-1zM757,682h1v31h-1zM765,681h1v32h-1zM773,679h1v34h-1zM781,676h1v37h-1zM789,673h1v40h-1zM797,670h1v43h-1zM805,658h1v55h-1zM813,651h1v62h-1zM821,647h1v66h-1zM829,641h1v72h-1zM837,638h1v75h-1zM845,634h1v79h-1zM853,625h1v88h-1zM861,617h1v96h-1zM869,611h1v102h-1zM877,613h1v100h-1zM885,613h1v100h-1zM893,612h1v101h-1zM901,617h1v96h-1zM909,622h1v91h-1zM917,624h1v89h-1zM925,635h1v78h-1zM933,647h1v66h-1zM941,655h1v58h-1zM949,657h1v56h-1zM957,665h1v48h-1zM965,677h1v36h-1zM973,693h1v20h-1zM981,700h1v13h-1zM989,703h1v10h-1zM997,712h1v1h-1zM1005,712h1v6h-1zM1013,712h1v11h-1zM1021,712h1v11h-1zM1029,712h1v6h-1zM1037,712h1v3h-1zM1045,709h1v4h-1zM1053,705h1v8h-1zM1061,698h1v15h-1zM1069,696h1v17h-1zM1077,700h1v13h-1zM1085,705h1v8h-1zM1093,709h1v4h-1zM1101,712h1v9h-1zM1109,712h1v23h-1zM1117,712h1v24h-1zM1125,712h1v17h-1zM1133,712h1v14h-1zM1141,712h1v9h-1zM1149,712h1v7h-1zM1157,712h1v3h-1zM1165,709h1v4h-1zM1173,699h1v14h-1zM1181,691h1v22h-1zM1189,682h1v31h-1zM1197,683h1v30h-1zM1205,685h1v28h-1zM1213,684h1v29h-1zM1221,683h1v30h-1zM1229,683h1v30h-1zM1237,687h1v26h-1zM1245,689h1v24h-1zM1253,693h1v20h-1zM1261,693h1v20h-1zM1269,694h1v19h-1zM1277,695h1v18h-1zM1285,702h1v11h-1zM1293,712h1v5h-1zM1301,712h1v14h-1zM1309,712h1v20h-1zM1317,712h1v20h-1zM1325,712h1v22h-1zM1333,712h1v22h-1zM1341,712h1v25h-1zM1349,712h1v26h-1zM1357,712h1v28h-1zM1365,712h1v29h-1zM1373,712h1v31h-1zM1381,712h1v30h-1zM1389,712h1v30h-1zM1397,712h1v28h-1zM1405,712h1v21h-1zM1413,712h1v14h-1z"/>
<polyline class="c" fill="none" stroke="#f00" stroke-width="1" stroke-dasharray="3 3" points="-2.5,696.0 3.0,695.2 25.9,692.4 51.3,691.4 81.8,693.7 109.8,697.5 132.7,704.6 150.5,709.2 165.7,709.2 178.5,704.1 193.7,693.2 208.9,674.1 224.2,655.1 239.5,634.7 254.7,617.0 267.5,608.0 280.1,605.0 300.5,601.7 320.8,601.0 338.5,598.4 356.4,595.3 376.7,595.3 392.0,601.2 407.2,610.0 422.5,619.5 433.0,627.1 455.9,640.6 481.3,653.3 506.8,665.2 527.1,672.4 542.3,673.4 557.6,669.8 577.9,667.0 595.7,658.9 613.5,653.8 628.8,648.7 644.0,640.6 659.3,633.0 674.5,627.9 689.8,624.8 705.0,624.3 720.3,626.6 735.5,633.0 750.8,643.6 768.5,656.9 786.4,668.5 796.5,672.1 806.7,672.9 822.0,667.8 837.2,658.9 852.5,648.0 860.5,642.4 875.8,630.4 893.5,622.8 908.8,616.9 924.0,616.2 934.2,620.8 946.9,629.6 959.5,637.3 974.9,652.5 992.7,672.9 1010.5,690.7 1025.7,704.6 1038.5,711.0 1051.1,713.5 1063.9,713.0 1079.1,709.0 1094.4,705.4 1107.1,706.7 1119.8,712.3 1132.5,716.1 1145.2,721.2 1160.5,723.2 1173.2,721.2 1188.4,711.8 1201.1,703.4 1216.4,695.0 1231.5,688.1 1241.8,684.8 1252.0,684.8 1267.2,686.8 1282.5,688.9 1290.5,692.6 1297.0,696.0 1303.0,700.0 1309.0,703.9 1315.0,707.4 1321.0,711.4 1327.0,714.8 1333.0,717.7 1339.0,721.9 1345.5,725.4 1351.0,728.8 1357.0,732.0 1363.0,734.5 1369.1,736.5 1374.6,737.6 1381.1,737.6 1393.1,738.3 1398.6,739.4 1405.1,739.4 1412.5,738.3"/>
<text x="1.5" y="592.2" font-size="9.3" fill="#000" stroke="#000" stroke-width=".15" textLength="128.5" lengthAdjust="spacingAndGlyphs">MACD(12,26,9) -81.89 -145.37</text>
<g class="c">
<line x1="0" y1="788.5" x2="1684" y2="788.5" stroke="#c0c0c0" stroke-width="1" stroke-dasharray="3 3"/>
<line x1="0" y1="839.5" x2="1684" y2="839.5" stroke="#c0c0c0" stroke-width="1" stroke-dasharray="3 3"/>
<line x1="0" y1="900.5" x2="1684" y2="900.5" stroke="#c0c0c0" stroke-width="1" stroke-dasharray="3 3"/>
</g>
<polyline class="c" fill="none" stroke="#1e90ff" stroke-width="1"  points="-2.5,824.2 5.5,829.3 13.5,828.3 21.5,832.1 29.5,830.3 37.5,828.3 45.5,826.3 53.5,825.2 61.5,831.3 69.5,830.3 77.5,830.3 85.5,833.1 93.5,844.1 101.5,846.1 109.5,861.3 117.5,849.6 125.5,856.0 133.5,859.8 141.5,832.6 149.5,819.1 157.5,814.8 165.5,805.9 173.5,800.1 181.5,795.8 189.5,784.1 197.5,787.9 205.5,784.1 213.5,787.6 221.5,784.1 229.5,783.0 237.5,778.5 245.5,791.2 253.5,803.9 261.5,811.0 269.5,806.4 277.5,806.4 285.5,802.1 293.5,792.5 301.5,803.9 309.5,799.6 317.5,795.2 325.5,795.8 333.5,803.9 341.5,800.3 349.5,804.9 357.5,808.5 365.5,806.4 373.5,803.9 381.5,825.2 389.5,823.0 397.5,819.1 405.5,817.4 413.5,824.2 421.5,822.4 429.5,823.5 437.5,818.1 445.5,819.9 453.5,821.2 461.5,823.2 469.5,819.1 477.5,833.4 485.5,831.9 493.5,828.3 501.5,828.3 509.5,827.3 517.5,827.3 525.5,817.4 533.5,797.5 541.5,803.4 549.5,802.4 557.5,800.3 565.5,827.0 573.5,828.5 581.5,819.1 589.5,809.7 597.5,801.3 605.5,800.3 613.5,807.7 621.5,805.2 629.5,799.6 637.5,792.5 645.5,812.3 653.5,820.4 661.5,815.3 669.5,808.5 677.5,811.8 685.5,817.4 693.5,816.3 701.5,814.3 709.5,814.3 717.5,815.6 725.5,844.6 733.5,832.1 741.5,844.6 749.5,849.4 757.5,833.9 765.5,829.3 773.5,827.0 781.5,825.0 789.5,823.2 797.5,821.2 805.5,808.5 813.5,813.0 821.5,814.6 829.5,809.5 837.5,812.5 845.5,809.2 853.5,800.8 861.5,799.1 869.5,799.1 877.5,813.0 885.5,809.2 893.5,807.4 901.5,818.1 909.5,819.4 917.5,814.6 925.5,833.9 933.5,839.0 941.5,834.6 949.5,826.3 957.5,837.7 965.5,847.4 973.5,856.3 981.5,844.8 989.5,841.0 997.5,852.2 1005.5,847.4 1013.5,849.4 1021.5,842.8 1029.5,834.9 1037.5,831.1 1045.5,833.1 1053.5,832.1 1061.5,824.2 1069.5,832.6 1077.5,842.3 1085.5,846.1 1093.5,844.6 1101.5,858.0 1109.5,864.1 1117.5,847.9 1125.5,835.2 1133.5,837.4 1141.5,836.4 1149.5,839.2 1157.5,835.4 1165.5,828.3 1173.5,823.2 1181.5,821.2 1189.5,819.1 1197.5,833.1 1205.5,836.4 1213.5,830.8 1221.5,829.3 1229.5,831.1 1237.5,838.5 1245.5,835.2 1253.5,841.0 1261.5,833.1 1269.5,834.4 1277.5,837.7 1285.5,847.9 1293.5,865.1 1301.5,855.0 1309.5,855.0 1317.5,846.1 1325.5,849.1 1333.5,844.6 1341.5,852.2 1349.5,851.7 1357.5,849.9 1365.5,854.2 1373.5,850.4 1381.5,846.1 1389.5,854.2 1397.5,844.6 1405.5,835.2 1413.5,833.1"/>
<text x="1.5" y="764.8" font-size="9.3" fill="#000" stroke="#000" stroke-width=".15" textLength="67.5" lengthAdjust="spacingAndGlyphs">RSI(14) 53.8948</text>
<line class="c" x1="1373.5" y1="745.0" x2="1425.9" y2="718.8" stroke="#f00" stroke-width="3.5"/><polygon class="c" fill="#f00" points="1434.0,714.8 1426.3,723.9 1422.1,715.5"/>
<line class="c" x1="1303.0" y1="864.5" x2="1426.5" y2="836.3" stroke="#f00" stroke-width="3.5"/><polygon class="c" fill="#f00" points="1435.3,834.3 1425.6,841.3 1423.5,832.2"/>
<g class="c" fill="#000">
<rect x="61" y="927" width="1" height="3"/>
<rect x="125" y="927" width="1" height="3"/>
<rect x="189" y="927" width="1" height="3"/>
<rect x="253" y="927" width="1" height="3"/>
<rect x="317" y="927" width="1" height="3"/>
<rect x="381" y="927" width="1" height="3"/>
<rect x="445" y="927" width="1" height="3"/>
<rect x="509" y="927" width="1" height="3"/>
<rect x="573" y="927" width="1" height="3"/>
<rect x="637" y="927" width="1" height="3"/>
<rect x="701" y="927" width="1" height="3"/>
<rect x="765" y="927" width="1" height="3"/>
<rect x="829" y="927" width="1" height="3"/>
<rect x="893" y="927" width="1" height="3"/>
<rect x="957" y="927" width="1" height="3"/>
<rect x="1021" y="927" width="1" height="3"/>
<rect x="1085" y="927" width="1" height="3"/>
<rect x="1149" y="927" width="1" height="3"/>
<rect x="1213" y="927" width="1" height="3"/>
<rect x="1277" y="927" width="1" height="3"/>
<rect x="1341" y="927" width="1" height="3"/>
<rect x="1405" y="927" width="1" height="3"/>
</g><g class="s">
<text x="-4" y="938.6">12 Oct 2020</text>
<text x="60" y="938.6">21 Oct 2020</text>
<text x="124" y="938.6">30 Oct 2020</text>
<text x="188" y="938.6">9 Nov 2020</text>
<text x="252" y="938.6">18 Nov 2020</text>
<text x="316" y="938.6">27 Nov 2020</text>
<text x="380" y="938.6">7 Dec 2020</text>
<text x="444" y="938.6">16 Dec 2020</text>
<text x="508" y="938.6">25 Dec 2020</text>
<text x="572" y="938.6">5 Jan 2021</text>
<text x="636" y="938.6">14 Jan 2021</text>
<text x="700" y="938.6">24 Jan 2021</text>
<text x="764" y="938.6">2 Feb 2021</text>
<text x="828" y="938.6">11 Feb 2021</text>
<text x="892" y="938.6">21 Feb 2021</text>
<text x="956" y="938.6">2 Mar 2021</text>
<text x="1020" y="938.6">11 Mar 2021</text>
<text x="1084" y="938.6">21 Mar 2021</text>
<text x="1148" y="938.6">30 Mar 2021</text>
<text x="1212" y="938.6">8 Apr 2021</text>
<text x="1276" y="938.6">18 Apr 2021</text>
<text x="1340" y="938.6">27 Apr 2021</text>
<text x="1404" y="938.6">6 May 2021</text>
</g>
</svg></body></html>
